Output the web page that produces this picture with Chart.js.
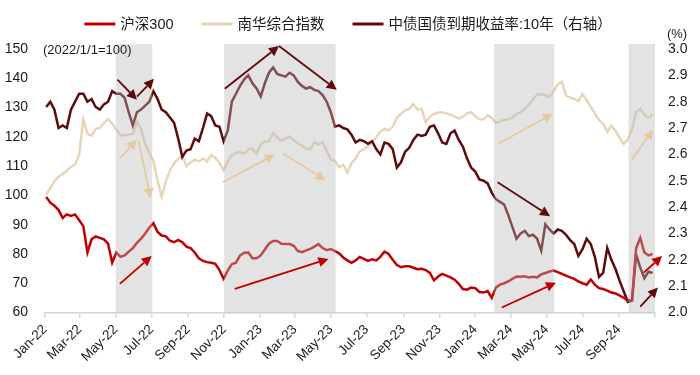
<!DOCTYPE html>
<html>
<head>
<meta charset="utf-8">
<script src="https://cdn.jsdelivr.net/npm/chart.js@4.4.0/dist/chart.umd.min.js"></script>
<style>
  html, body { margin: 0; padding: 0; background: #fff; }
  #wrap { width: 700px; height: 375px; }
</style>
</head>
<body>
<div id="wrap"><canvas id="chart"></canvas></div>
<script>
// weekly observations (Mondays)
const weekDates = [
  '2022-01-03','2022-01-10','2022-01-17','2022-01-24','2022-01-31','2022-02-07','2022-02-14','2022-02-21','2022-02-28','2022-03-07',
  '2022-03-14','2022-03-21','2022-03-28','2022-04-04','2022-04-11','2022-04-18','2022-04-25','2022-05-02','2022-05-09','2022-05-16',
  '2022-05-23','2022-05-30','2022-06-06','2022-06-13','2022-06-20','2022-06-27','2022-07-04','2022-07-11','2022-07-18','2022-07-25',
  '2022-08-01','2022-08-08','2022-08-15','2022-08-22','2022-08-29','2022-09-05','2022-09-12','2022-09-19','2022-09-26','2022-10-03',
  '2022-10-10','2022-10-17','2022-10-24','2022-10-31','2022-11-07','2022-11-14','2022-11-21','2022-11-28','2022-12-05','2022-12-12',
  '2022-12-19','2022-12-26','2023-01-02','2023-01-09','2023-01-16','2023-01-23','2023-01-30','2023-02-06','2023-02-13','2023-02-20',
  '2023-02-27','2023-03-06','2023-03-13','2023-03-20','2023-03-27','2023-04-03','2023-04-10','2023-04-17','2023-04-24','2023-05-01',
  '2023-05-08','2023-05-15','2023-05-22','2023-05-29','2023-06-05','2023-06-12','2023-06-19','2023-06-26','2023-07-03','2023-07-10',
  '2023-07-17','2023-07-24','2023-07-31','2023-08-07','2023-08-14','2023-08-21','2023-08-28','2023-09-04','2023-09-11','2023-09-18',
  '2023-09-25','2023-10-02','2023-10-09','2023-10-16','2023-10-23','2023-10-30','2023-11-06','2023-11-13','2023-11-20','2023-11-27',
  '2023-12-04','2023-12-11','2023-12-18','2023-12-25','2024-01-01','2024-01-08','2024-01-15','2024-01-22','2024-01-29','2024-02-05',
  '2024-02-12','2024-02-19','2024-02-26','2024-03-04','2024-03-11','2024-03-18','2024-03-25','2024-04-01','2024-04-08','2024-04-15',
  '2024-04-22','2024-04-29','2024-05-06','2024-05-13','2024-05-20','2024-05-27','2024-06-03','2024-06-10','2024-06-17','2024-06-24',
  '2024-07-01','2024-07-08','2024-07-15','2024-07-22','2024-07-29','2024-08-05','2024-08-12','2024-08-19','2024-08-26','2024-09-02',
  '2024-09-09','2024-09-16','2024-09-23','2024-09-30','2024-10-07','2024-10-14','2024-10-21','2024-10-28'
];

// 沪深300 (2022/1/1=100)
const hs300 = [
  99.5, 97.5, 96.5, 95, 92.3, 93.5, 93, 93.5, 91.5, 89.5,
  80.5, 85, 86, 85.5, 85, 83.5, 77, 80.5, 79, 79.5,
  80.8, 82, 83.8, 85.2, 87, 89, 90.5, 87.5, 86.3, 86,
  84.5, 84, 84.8, 84, 82.5, 82, 80.5, 78.5, 77.6, 77.2,
  77, 76.6, 74.5, 71.5, 74.3, 76.5, 77, 79.5, 80.4, 80.5,
  78.5, 78.5, 79.5, 81.5, 83.5, 84.4, 84.4, 83.5, 83.4, 83.4,
  82.8, 81, 80.6, 81.2, 81.7, 82.5, 83.4, 82, 81.3, 81.7,
  81, 80.2, 78.8, 77.8, 77, 77.8, 79, 78.3, 77.6, 78.2,
  77.8, 79, 80.8, 80, 78, 76.2, 75.5, 75.8, 75.8, 75.3,
  74.8, 74.9, 74.5, 73.5, 71, 72.3, 73.2, 72.6, 72, 71.2,
  69.8, 68, 67.8, 68.5, 68.3, 67, 66.8, 67.3, 65, 68.5,
  69.5, 70, 70.6, 71.5, 72.3, 72.2, 72.4, 72, 72.2, 72,
  73, 73.5, 74, 74.3, 73.8, 73.2, 72.6, 72, 71.5, 70.6,
  70, 69.5, 71.3, 69.5, 68.3, 68, 67.5, 66.8, 66.5, 65.8,
  65, 64.1, 64.3, 82, 85.5, 80.5, 79.5, 80
];

// 南华综合指数 (2022/1/1=100)
const nanhua = [
  100.3, 102.5, 104.8, 106.5, 107.3, 108.5, 109.8, 110.5, 114, 126,
  121, 120.3, 122.8, 123, 124.8, 126, 124.5, 122.5, 120.5, 120.5,
  120.8, 121, 125.2, 122.5, 117.5, 114.5, 111.8, 105, 99.5, 104.8,
  108.5, 111, 112.5, 113.8, 110, 111.2, 112.2, 111.6, 112.6, 111.6,
  113.8, 112.8, 111.2, 108.5, 111.6, 113.8, 114.5, 114.8, 114.2, 115.7,
  116, 114.2, 117.4, 118.3, 118.5, 121.3, 119.8, 118.6, 119.4, 120.1,
  118.8, 117.8, 117, 116, 115.7, 118.2, 117.4, 118.3, 115.2, 112.3,
  111.8, 109.6, 110.5, 107.8, 111, 112.7, 115, 115.8, 116.8, 118.2,
  119.8, 121.8, 122.7, 122.2, 123.5, 126.5, 127.8, 129, 129.5, 131.2,
  129.3, 129.6, 125, 126.9, 127.8, 128.3, 128.4, 128, 127.6, 127,
  126.2, 126.8, 128, 128.4, 127, 126, 126, 127.3, 126.5, 124.8,
  125.2, 125.8, 125.9, 126.6, 127.8, 128.4, 129.5, 131, 132.8, 134.4,
  134.6, 134.2, 133.7, 135.5, 138, 138.8, 134, 133.5, 133, 132.2,
  134.5, 132.5, 130.2, 128, 125.8, 124.5, 121.8, 123.8, 122, 119.6,
  117.5, 119.2, 122.5, 128.5, 129.6, 127.5, 126.5, 127.6
];

// 中债国债到期收益率:10年 (%)
const cgb10y = [
  2.78, 2.80, 2.77, 2.70, 2.71, 2.70, 2.77, 2.80, 2.83, 2.83,
  2.80, 2.81, 2.78, 2.77, 2.79, 2.80, 2.84, 2.83, 2.83, 2.815,
  2.76, 2.71, 2.76, 2.77, 2.785, 2.80, 2.84, 2.81, 2.77, 2.76,
  2.74, 2.72, 2.66, 2.59, 2.615, 2.62, 2.66, 2.65, 2.70, 2.755,
  2.745, 2.71, 2.705, 2.65, 2.69, 2.80, 2.83, 2.86, 2.885, 2.90,
  2.87, 2.85, 2.82, 2.87, 2.91, 2.93, 2.905, 2.90, 2.895, 2.91,
  2.90, 2.875, 2.86, 2.85, 2.855, 2.845, 2.84, 2.825, 2.80, 2.76,
  2.705, 2.71, 2.70, 2.695, 2.675, 2.645, 2.655, 2.65, 2.64, 2.65,
  2.62, 2.60, 2.645, 2.64, 2.62, 2.55, 2.57, 2.61, 2.625, 2.655,
  2.675, 2.67, 2.675, 2.705, 2.71, 2.68, 2.645, 2.64, 2.68, 2.69,
  2.655, 2.63, 2.585, 2.55, 2.535, 2.505, 2.50, 2.49, 2.455, 2.43,
  2.42, 2.41, 2.37, 2.325, 2.28, 2.30, 2.31, 2.29, 2.295, 2.28,
  2.235, 2.335, 2.315, 2.30, 2.315, 2.31, 2.295, 2.275, 2.26, 2.215,
  2.24, 2.28, 2.26, 2.21, 2.135, 2.15, 2.245, 2.20, 2.165, 2.12,
  2.08, 2.04, 2.045, 2.22, 2.17, 2.13, 2.155, 2.15
];

const xTickDates = [
  '2022-01-01','2022-03-01','2022-05-01','2022-07-01','2022-09-01','2022-11-01',
  '2023-01-01','2023-03-01','2023-05-01','2023-07-01','2023-09-01','2023-11-01',
  '2024-01-01','2024-03-01','2024-05-01','2024-07-01','2024-09-01','2024-11-01'
];
const xTickLabels = [
  'Jan-22','Mar-22','May-22','Jul-22','Sep-22','Nov-22',
  'Jan-23','Mar-23','May-23','Jul-23','Sep-23','Nov-23',
  'Jan-24','Mar-24','May-24','Jul-24','Sep-24'
];

// grey bands
const shadedPeriods = [
  ['2022-05-01', '2022-07-02'],
  ['2022-11-01', '2023-05-09'],
  ['2024-02-02', '2024-05-14'],
  ['2024-09-17', '2024-11-01']
];

// trend arrows: [from date, from value, to date, to value] on the left axis
const hs300Arrows = [
  ['2022-05-08', 69.8, '2022-07-01', 79.3],
  ['2022-11-19', 68.1, '2023-04-27', 78.3],
  ['2024-02-15', 61.7, '2024-05-17', 70.2],
  ['2024-10-13', 73.6, '2024-11-13', 79.3]
];
const nanhuaArrows = [
  ['2022-05-08', 112.6, '2022-06-06', 119.1],
  ['2022-06-09', 118.4, '2022-06-29', 99.0],
  ['2022-10-30', 104.5, '2023-01-26', 114.0],
  ['2023-02-09', 114.3, '2023-04-22', 105.2],
  ['2024-02-10', 117.7, '2024-05-12', 127.9],
  ['2024-09-23', 112.3, '2024-10-29', 122.5]
];
const yieldArrows = [
  ['2022-05-04', 139.5, '2022-06-06', 132.7],
  ['2022-06-06', 133.7, '2022-07-05', 139.8],
  ['2022-11-02', 136.4, '2023-02-02', 151.0],
  ['2023-02-02', 151.0, '2023-05-11', 136.1],
  ['2024-02-08', 104.5, '2024-05-07', 92.9],
  ['2024-10-07', 62.0, '2024-11-06', 68.5]
];

const FONT = "'Liberation Sans', 'Noto Sans CJK SC', Arial, sans-serif";
const TEXT = '#1a1a1a';
const RED = '#c00000';
const BEIGE = '#e8d5b8';
const MAROON = '#5e0b0b';

const toDay = (d) => (Date.parse(d) - Date.parse('2022-01-01')) / 864e5;
const xs = weekDates.map(toDay);

function drawArrow(ctx, x0, y0, x1, y1, color) {
  const a = Math.atan2(y1 - y0, x1 - x0);
  const head = 10, half = 5;
  const bx = x1 - head * Math.cos(a), by = y1 - head * Math.sin(a);
  ctx.strokeStyle = color;
  ctx.fillStyle = color;
  ctx.lineWidth = 1.8;
  ctx.beginPath();
  ctx.moveTo(x0, y0);
  ctx.lineTo(bx, by);
  ctx.stroke();
  ctx.beginPath();
  ctx.moveTo(x1, y1);
  ctx.lineTo(bx + half * Math.sin(a), by - half * Math.cos(a));
  ctx.lineTo(bx - half * Math.sin(a), by + half * Math.cos(a));
  ctx.closePath();
  ctx.fill();
}

const overlay = {
  id: 'overlay',
  afterDatasetsDraw(chart) {
    const { ctx, chartArea, scales: { x, y } } = chart;
    ctx.save();
    // grey bands sit on top of the lines, which makes them look faded
    ctx.fillStyle = 'rgba(185,185,185,0.4)';
    const top = y.getPixelForValue(150) - 5;
    shadedPeriods.forEach(([a, b]) => {
      const x0 = x.getPixelForValue(toDay(a));
      const x1 = x.getPixelForValue(toDay(b));
      ctx.fillRect(x0, top, x1 - x0, chartArea.bottom - top);
    });
    const arrowSets = [[nanhuaArrows, '#e4c9a1'], [hs300Arrows, RED], [yieldArrows, MAROON]];
    arrowSets.forEach(([list, color]) => {
      list.forEach(([d0, v0, d1, v1]) => {
        drawArrow(ctx,
          x.getPixelForValue(toDay(d0)), y.getPixelForValue(v0),
          x.getPixelForValue(toDay(d1)), y.getPixelForValue(v1), color);
      });
    });
    ctx.restore();
  },
  afterDraw(chart) {
    const { ctx, scales: { y } } = chart;
    ctx.save();
    // legend
    ctx.font = '14.5px ' + FONT;
    ctx.textBaseline = 'middle';
    ctx.textAlign = 'left';
    const items = chart.data.datasets.map((ds) => ({
      label: ds.label, color: ds.borderColor, w: ctx.measureText(ds.label).width
    }));
    const sample = 31, gap = 5, spacing = 28;
    const total = items.reduce((s, it) => s + sample + gap + it.w, 0) + spacing * (items.length - 1);
    let cx = chart.width / 2 - total / 2 - 2;
    const ly = 24;
    items.forEach((it) => {
      ctx.strokeStyle = it.color;
      ctx.lineWidth = 3;
      ctx.beginPath();
      ctx.moveTo(cx, ly);
      ctx.lineTo(cx + sample, ly);
      ctx.stroke();
      ctx.fillStyle = TEXT;
      ctx.fillText(it.label, cx + sample + gap, ly + 1);
      cx += sample + gap + it.w + spacing;
    });
    // axis notes
    ctx.font = '13px ' + FONT;
    ctx.fillText('(2022/1/1=100)', 43, y.getPixelForValue(150) + 1);
    ctx.textAlign = 'center';
    ctx.fillText('(%)', 677, 34);
    ctx.restore();
  }
};

Chart.defaults.font.family = FONT;
Chart.defaults.color = TEXT;

new Chart(document.getElementById('chart'), {
  type: 'line',
  data: {
    datasets: [
      {
        label: '沪深300',
        data: hs300.map((v, i) => ({ x: xs[i], y: v })),
        borderColor: RED,
        yAxisID: 'y',
        order: 0
      },
      {
        label: '南华综合指数',
        data: nanhua.map((v, i) => ({ x: xs[i], y: v })),
        borderColor: BEIGE,
        yAxisID: 'y',
        order: 2
      },
      {
        label: '中债国债到期收益率:10年（右轴）',
        data: cgb10y.map((v, i) => ({ x: xs[i], y: v })),
        borderColor: MAROON,
        yAxisID: 'y1',
        order: 1
      }
    ]
  },
  options: {
    responsive: true,
    maintainAspectRatio: false,
    animation: false,
    devicePixelRatio: 1,
    layout: { padding: { top: 49, left: 0, right: 0, bottom: 0 } },
    elements: {
      point: { radius: 0 },
      line: { borderWidth: 2.5, tension: 0 }
    },
    plugins: {
      legend: { display: false },
      tooltip: { enabled: false }
    },
    scales: {
      x: {
        type: 'linear',
        min: toDay(xTickDates[0]),
        max: toDay(xTickDates[xTickDates.length - 1]),
        afterBuildTicks: (axis) => {
          axis.ticks = xTickDates.map((d) => ({ value: toDay(d) }));
        },
        afterFit: (axis) => { axis.height = 62.5; },
        ticks: {
          autoSkip: false,
          minRotation: 45,
          maxRotation: 45,
          padding: 4,
          font: { size: 13.5 },
          color: TEXT,
          callback: (v, i) => xTickLabels[i] ?? ''
        },
        grid: { drawOnChartArea: false, drawTicks: true, tickLength: 5, color: '#d4d4d4', lineWidth: 1.5 },
        border: { color: '#d4d4d4', width: 1.5 }
      },
      y: {
        position: 'left',
        min: 60,
        max: 150,
        afterFit: (axis) => { axis.width = 45; },
        ticks: { stepSize: 10, padding: 17, font: { size: 14 }, color: TEXT },
        grid: { display: false, drawTicks: false },
        border: { display: false }
      },
      y1: {
        position: 'right',
        min: 2.0,
        max: 3.0,
        afterFit: (axis) => { axis.width = 45; },
        ticks: {
          stepSize: 0.1, padding: 13, font: { size: 14 }, color: TEXT,
          callback: (v) => Number(v).toFixed(1)
        },
        grid: { display: false, drawTicks: false },
        border: { display: false }
      }
    }
  },
  plugins: [overlay]
});
</script>
</body>
</html>
